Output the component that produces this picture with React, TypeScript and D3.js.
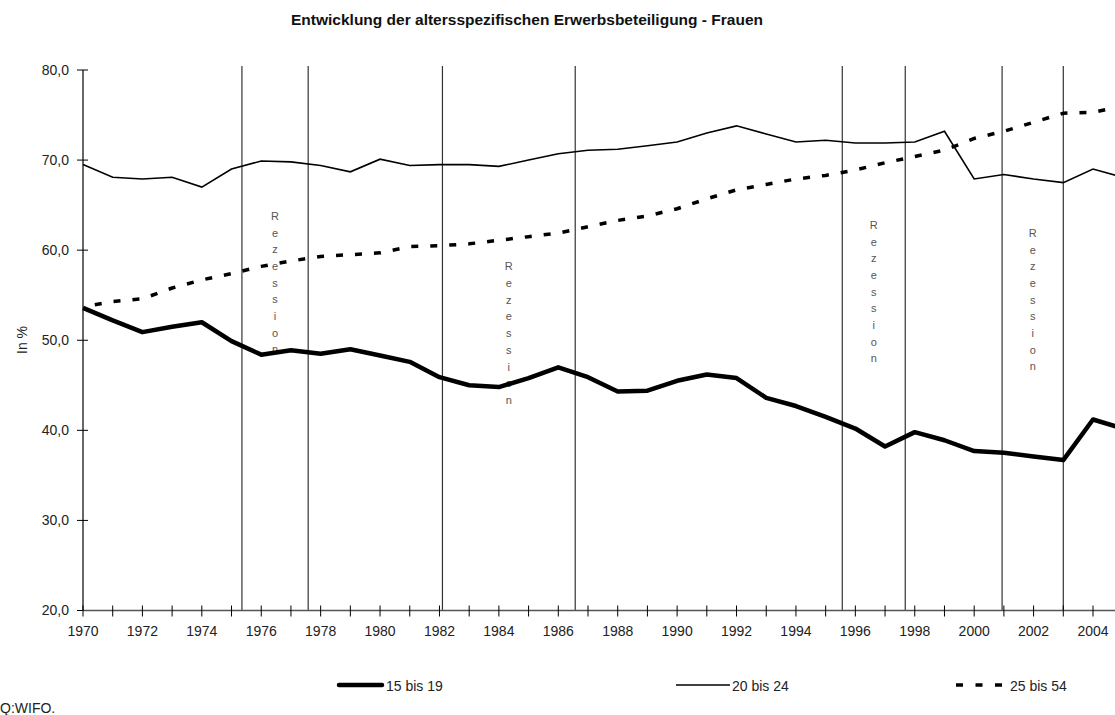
import React, { useEffect, useRef } from "react";
import * as d3 from "d3";

const years = d3.range(1970, 2006);

// 15 bis 19
const teen = [
	53.6, 52.2, 50.9, 51.5, 52.0, 49.9, 48.4, 48.9, 48.5, 49.0,
	48.3, 47.6, 45.9, 45.0, 44.8, 45.8, 47.0, 45.9, 44.3, 44.4,
	45.5, 46.2, 45.8, 43.6, 42.7, 41.5, 40.2, 38.2, 39.8, 38.9,
	37.7, 37.5, 37.1, 36.7, 41.2, 40.2
];

// 20 bis 24
const young = [
	69.5, 68.1, 67.9, 68.1, 67.0, 69.0, 69.9, 69.8, 69.4, 68.7,
	70.1, 69.4, 69.5, 69.5, 69.3, 70.0, 70.7, 71.1, 71.2, 71.6,
	72.0, 73.0, 73.8, 72.9, 72.0, 72.2, 71.9, 71.9, 72.0, 73.2,
	67.9, 68.4, 67.9, 67.5, 69.0, 68.1
];

// 25 bis 54
const core = [
	53.7, 54.3, 54.6, 55.8, 56.7, 57.4, 58.2, 58.8, 59.3, 59.5,
	59.7, 60.4, 60.5, 60.7, 61.1, 61.5, 61.9, 62.6, 63.3, 63.8,
	64.6, 65.7, 66.7, 67.3, 67.9, 68.3, 68.9, 69.7, 70.4, 71.1,
	72.4, 73.2, 74.2, 75.2, 75.3, 76.0
];

const yTicks = [20, 30, 40, 50, 60, 70, 80];
const xLabels = d3.range(1970, 2005, 2);

// recession periods (start, end as fractional years)
const recessions = [
	[1975.35, 1977.58],
	[1982.1, 1986.57],
	[1995.56, 1997.68],
	[2000.94, 2003.0]
];
const recessionWord = "Rezession";

export default function App() {
	const ref = useRef<SVGSVGElement | null>(null);

	useEffect(() => {
		const svg = d3.select(ref.current);
		svg.selectAll("*").remove();

		const font = "'Liberation Sans', Arial, sans-serif";
		const x = d3.scaleLinear().domain([1970, 2004]).range([83, 1093]);
		const y = d3.scaleLinear().domain([20, 80]).range([610.5, 70]);

		// title
		svg.append("text")
			.attr("x", 527)
			.attr("y", 25)
			.attr("text-anchor", "middle")
			.attr("font-family", font)
			.attr("font-weight", "bold")
			.attr("font-size", "15.5px")
			.attr("fill", "#111")
			.text("Entwicklung der altersspezifischen Erwerbsbeteiligung - Frauen");

		// recession lines
		const rec = svg.append("g");
		recessions.forEach((r) => {
			r.forEach((yr) => {
				rec.append("line")
					.attr("x1", x(yr)).attr("x2", x(yr))
					.attr("y1", 66).attr("y2", y(20))
					.attr("stroke", "#333")
					.attr("stroke-width", 1.2);
			});
		});

		// recession labels, letters stacked vertically
		const labelTop = [216, 266.5, 225, 233];
		recessions.forEach((r, i) => {
			const cx = x((r[0] + r[1]) / 2);
			recessionWord.split("").forEach((ch, j) => {
				svg.append("text")
					.attr("x", cx)
					.attr("y", labelTop[i] + j * 16.7)
					.attr("dy", "0.35em")
					.attr("text-anchor", "middle")
					.attr("font-family", font)
					.attr("font-size", "11px")
					.attr("fill", "#555")
					.text(ch);
			});
		});

		// y axis
		svg.append("line")
			.attr("x1", x(1970)).attr("x2", x(1970))
			.attr("y1", y(80)).attr("y2", y(20))
			.attr("stroke", "#000").attr("stroke-width", 1.2);
		yTicks.forEach((t) => {
			svg.append("line")
				.attr("x1", x(1970) - 6).attr("x2", x(1970) + 5)
				.attr("y1", y(t)).attr("y2", y(t))
				.attr("stroke", "#000").attr("stroke-width", 1);
			svg.append("text")
				.attr("x", 69)
				.attr("y", y(t))
				.attr("dy", "0.35em")
				.attr("text-anchor", "end")
				.attr("font-family", font)
				.attr("font-size", "14px")
				.attr("fill", "#222")
				.text(d3.format(".1f")(t).replace(".", ","));
		});

		svg.append("text")
			.attr("transform", "translate(22,340) rotate(-90)")
			.attr("text-anchor", "middle")
			.attr("dy", "0.35em")
			.attr("font-family", font)
			.attr("font-size", "14px")
			.attr("fill", "#222")
			.text("In %");

		// x axis
		svg.append("line")
			.attr("x1", x(1970)).attr("x2", 1115)
			.attr("y1", y(20)).attr("y2", y(20))
			.attr("stroke", "#555").attr("stroke-width", 1.5);
		years.forEach((yr) => {
			svg.append("line")
				.attr("x1", x(yr)).attr("x2", x(yr))
				.attr("y1", y(20) - 5).attr("y2", y(20) + 6)
				.attr("stroke", "#000").attr("stroke-width", 1);
		});
		xLabels.forEach((yr) => {
			svg.append("text")
				.attr("x", x(yr))
				.attr("y", 631)
				.attr("dy", "0.35em")
				.attr("text-anchor", "middle")
				.attr("font-family", font)
				.attr("font-size", "14px")
				.attr("fill", "#222")
				.text(yr);
		});

		// series
		const line = d3.line<number>()
			.x((d, i) => x(years[i]))
			.y((d) => y(d));

		svg.append("path")
			.datum(young)
			.attr("d", line)
			.attr("fill", "none")
			.attr("stroke", "#000")
			.attr("stroke-width", 1.6);

		svg.append("path")
			.datum(core)
			.attr("d", line)
			.attr("fill", "none")
			.attr("stroke", "#000")
			.attr("stroke-width", 3.5)
			.attr("stroke-dasharray", "7 12")
			.attr("stroke-dashoffset", -12);

		svg.append("path")
			.datum(teen)
			.attr("d", line)
			.attr("fill", "none")
			.attr("stroke", "#000")
			.attr("stroke-width", 4.5)
			.attr("stroke-linejoin", "round");

		// legend
		const ly = 685;
		svg.append("line")
			.attr("x1", 339).attr("x2", 382)
			.attr("y1", ly).attr("y2", ly)
			.attr("stroke", "#000").attr("stroke-width", 4.5)
			.attr("stroke-linecap", "round");
		svg.append("line")
			.attr("x1", 676).attr("x2", 730)
			.attr("y1", ly).attr("y2", ly)
			.attr("stroke", "#000").attr("stroke-width", 1.3);
		svg.append("line")
			.attr("x1", 956).attr("x2", 1002)
			.attr("y1", ly).attr("y2", ly)
			.attr("stroke", "#000").attr("stroke-width", 3.5)
			.attr("stroke-dasharray", "7 12.5");

		const legendText = [
			[386, "15 bis 19"],
			[732, "20 bis 24"],
			[1010, "25 bis 54"]
		];
		legendText.forEach(([lx, t]) => {
			svg.append("text")
				.attr("x", lx as number)
				.attr("y", ly + 1)
				.attr("dy", "0.35em")
				.attr("font-family", font)
				.attr("font-size", "14px")
				.attr("fill", "#222")
				.text(t as string);
		});

		svg.append("text")
			.attr("x", 0)
			.attr("y", 708)
			.attr("dy", "0.35em")
			.attr("font-family", font)
			.attr("font-size", "14px")
			.attr("fill", "#222")
			.text("Q:WIFO.");
	}, []);

	return (
		<svg
			ref={ref}
			width={1115}
			height={715}
			style={{ position: "absolute", left: 0, top: 0, background: "#fff" }}
		/>
	);
}
